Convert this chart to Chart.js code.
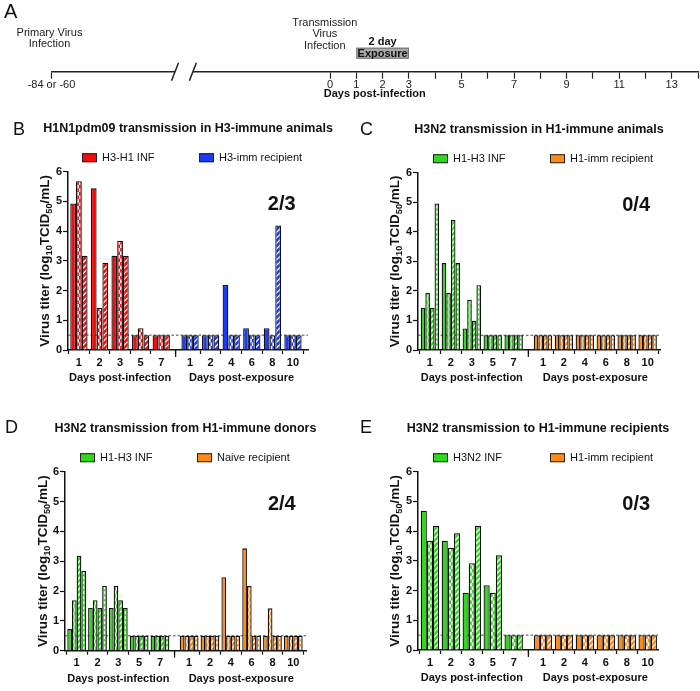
<!DOCTYPE html>
<html>
<head>
<meta charset="utf-8">
<script src="https://cdn.jsdelivr.net/npm/chart.js@4"></script>
<style>
  body { margin: 0; background: #fff; font-family: "Liberation Sans", Arial, sans-serif; }
  #page { position: relative; width: 700px; height: 691px; overflow: hidden; }
  canvas { position: absolute; }
  .letter { position: absolute; font-size: 18px; line-height: 18px; color: #111; }
</style>
</head>
<body>
<div id="page">
  <canvas id="panelA" width="700" height="110" style="left:0;top:0"></canvas>
  <canvas id="panelB" width="350" height="290" style="left:0;top:110px"></canvas>
  <canvas id="panelC" width="350" height="290" style="left:350px;top:110px"></canvas>
  <canvas id="panelD" width="350" height="291" style="left:0;top:400px"></canvas>
  <canvas id="panelE" width="350" height="291" style="left:350px;top:400px"></canvas>
  <div class="letter" style="left:4px;top:1px;font-size:20px;line-height:20px">A</div>
  <div class="letter" style="left:13px;top:120px">B</div>
  <div class="letter" style="left:360px;top:120px">C</div>
  <div class="letter" style="left:5px;top:418px">D</div>
  <div class="letter" style="left:360px;top:418px">E</div>
</div>
<script>
const FONT = '"Liberation Sans", Arial, sans-serif';
Chart.defaults.font.family = FONT;
Chart.defaults.color = '#111';

// timeline (panel A)
const timelineTicks = [-10.6, 0, 1, 2, 3, 4, 5, 6, 7, 8, 9, 10, 11, 12, 13, 14];
const timelineLabels = ['-84 or -60', '0', '1', '2', '3', '', '5', '', '7', '', '9', '', '11', '', '13', ''];
const axisBreak = [-5.9, -5.22];
const exposureDays = [1, 3];

// bar panels: shared x layout
const infDays = ['1', '2', '3', '5', '7'];
const expDays = ['1', '2', '4', '6', '8', '10'];
const dayLabels = infDays.concat(expDays);
const xPos = [0, 1, 2, 3, 4, 5.4, 6.4, 7.4, 8.4, 9.4, 10.4];
const yTicks = [0, 1, 2, 3, 4, 5, 6];
const lod = 0.5;
const animalPatterns = ['solid', 'check', 'diag', 'dash'];

// B: H1N1pdm09 in H3-immune animals
const bDonor = [
  [4.93, 5.44, 3.17, 0.5, 0.5],
  [5.68, 1.42, 3.68, 0.73, 0.5],
  [3.17, 2.94, 3.17, 0.5, 0.5],
];
const bRecipient = [
  [0.5, 0.5, 2.19, 0.73, 0.73, 0.5],
  [0.5, 0.5, 0.5, 0.5, 0.5, 0.5],
  [0.5, 0.5, 0.5, 0.5, 4.19, 0.5],
];

// C: H3N2 in H1-immune animals
const cDonor = [
  [1.43, 2.94, 0.73, 0.5, 0.5],
  [1.93, 1.93, 1.70, 0.5, 0.5],
  [1.43, 4.40, 0.99, 0.5, 0.5],
  [4.96, 2.94, 2.19, 0.5, 0.5],
];
const cRecipient = [
  [0.5, 0.5, 0.5, 0.5, 0.5, 0.5],
  [0.5, 0.5, 0.5, 0.5, 0.5, 0.5],
  [0.5, 0.5, 0.5, 0.5, 0.5, 0.5],
  [0.5, 0.5, 0.5, 0.5, 0.5, 0.5],
];

// D: H3N2 from H1-immune donors
const dDonor = [
  [0.73, 1.43, 1.43, 0.5, 0.5],
  [1.69, 1.69, 2.18, 0.5, 0.5],
  [3.18, 1.43, 1.69, 0.5, 0.5],
  [2.67, 2.18, 1.43, 0.5, 0.5],
];
const dRecipient = [
  [0.5, 0.5, 2.46, 3.43, 0.5, 0.5],
  [0.5, 0.5, 0.5, 2.17, 1.42, 0.5],
  [0.5, 0.5, 0.5, 0.5, 0.5, 0.5],
  [0.5, 0.5, 0.5, 0.5, 0.5, 0.5],
];

// E: H3N2 to H1-immune recipients
const eDonor = [
  [4.69, 3.68, 1.93, 2.18, 0.5],
  [3.68, 3.43, 2.92, 1.93, 0.5],
  [4.18, 3.93, 4.18, 3.19, 0.5],
];
const eRecipient = [
  [0.5, 0.5, 0.5, 0.5, 0.5, 0.5],
  [0.5, 0.5, 0.5, 0.5, 0.5, 0.5],
  [0.5, 0.5, 0.5, 0.5, 0.5, 0.5],
];

const RED = '#f20d0d';
const BLUE = '#1a3cf5';
const GREEN = '#2fd81a';
const ORANGE = '#ff8a17';
const BORDER = 1.3;

const timelineDecor = {
  id: 'timelineDecor',
  afterDraw(chart) {
    const { ctx, chartArea, scales: { x } } = chart;
    const base = chartArea.bottom;
    ctx.save();
    // axis break
    const b0 = x.getPixelForValue(axisBreak[0]);
    const b1 = x.getPixelForValue(axisBreak[1]);
    ctx.fillStyle = '#fff';
    ctx.fillRect(b0, base - 3, b1 - b0, 6);
    ctx.strokeStyle = '#222';
    ctx.lineWidth = 1.5;
    ctx.beginPath();
    [b0, b1].forEach(px => { ctx.moveTo(px - 3.5, base + 9); ctx.lineTo(px + 3.5, base - 9); });
    ctx.stroke();

    // exposure box
    const e0 = x.getPixelForValue(exposureDays[0]);
    const e1 = x.getPixelForValue(exposureDays[1]);
    ctx.fillStyle = '#aaaaaa';
    ctx.strokeStyle = '#707070';
    ctx.lineWidth = 1;
    ctx.fillRect(e0, base - 24, e1 - e0, 11);
    ctx.strokeRect(e0 + 0.5, base - 23.5, e1 - e0 - 1, 10);
    ctx.fillStyle = '#111';
    ctx.textAlign = 'center';
    ctx.textBaseline = 'middle';
    ctx.font = `bold 11px ${FONT}`;
    ctx.fillText('Exposure', (e0 + e1) / 2, base - 18);
    ctx.fillText('2 day', (e0 + e1) / 2, base - 30);
    ctx.fillText('Days post-infection', x.getPixelForValue(1.7), base + 22.5);

    ctx.font = `11px ${FONT}`;
    ctx.fillStyle = '#222';
    const p = x.getPixelForValue(timelineTicks[0]) - 2;
    ctx.fillText('Primary Virus', p, base - 39);
    ctx.fillText('Infection', p, base - 28);
    const t = x.getPixelForValue(-0.2);
    ctx.fillText('Transmission', t, base - 49);
    ctx.fillText('Virus', t, base - 38);
    ctx.fillText('Infection', t, base - 26);
    ctx.restore();
  },
};

new Chart(document.getElementById('panelA'), {
  type: 'scatter',
  data: { datasets: [] },
  options: {
    responsive: false,
    animation: false,
    layout: { padding: { left: 51.5, right: 2, top: 5 } },
    plugins: { legend: { display: false }, tooltip: { enabled: false } },
    scales: {
      x: {
        type: 'linear',
        bounds: 'data',
        min: timelineTicks[0],
        max: 14,
        afterBuildTicks: (axis) => { axis.ticks = timelineTicks.map(v => ({ value: v })); },
        afterFit: (axis) => { axis.height = 110 - 71.7; },
        border: { color: '#222', width: 1.5 },
        grid: { drawOnChartArea: false, tickLength: 7, color: '#222', tickWidth: 1.2 },
        ticks: {
          autoSkip: false, maxRotation: 0, padding: 0, color: '#222',
          font: { size: 11 },
          callback: (v, i) => timelineLabels[i],
        },
      },
      y: { display: false, min: 0, max: 1 },
    },
  },
  plugins: [timelineDecor],
});

const panelDecor = {
  id: 'panelDecor',
  beforeDatasetsDraw(chart) {
    const { ctx, chartArea, scales: { y } } = chart;
    const py = y.getPixelForValue(lod);
    ctx.save();
    ctx.setLineDash([2.5, 2]);
    ctx.strokeStyle = '#444';
    ctx.lineWidth = 1;
    ctx.beginPath();
    ctx.moveTo(chartArea.left, py);
    ctx.lineTo(chartArea.right, py);
    ctx.stroke();
    ctx.restore();
  },
  afterDatasetsDraw(chart) {
    const ctx = chart.ctx;
    chart.data.datasets.forEach((ds, i) => {
      const kind = animalPatterns[i];
      if (kind === 'solid') return;
      chart.getDatasetMeta(i).data.forEach(bar => {
        const { x, y, base, width } = bar.getProps(['x', 'y', 'base', 'width'], true);
        const left = x - width / 2 + BORDER;
        const right = x + width / 2 - BORDER;
        const top = y + BORDER;
        const bottom = base;
        const w = right - left;
        const h = bottom - top;
        if (w <= 0 || h <= 0) return;
        ctx.save();
        ctx.beginPath();
        ctx.rect(left, top, w, h);
        ctx.clip();
        ctx.fillStyle = '#fff';
        ctx.strokeStyle = '#fff';
        if (kind === 'check') {
          const cw = w / 2;
          for (let r = 0; bottom - r * 3.5 > top; r++) {
            ctx.fillRect(left + (r % 2) * cw, bottom - (r + 1) * 3.5, cw, 3.5);
          }
        } else if (kind === 'diag') {
          ctx.lineWidth = 1.3;
          ctx.beginPath();
          for (let t = -h; t < w + 6; t += 5.5) {
            ctx.moveTo(left + t, bottom);
            ctx.lineTo(left + t + h, bottom - h);
          }
          ctx.stroke();
        } else if (kind === 'dash') {
          const cx = (left + right) / 2;
          for (let yy = bottom - 1; yy > top; yy -= 5) ctx.fillRect(cx - 0.7, yy - 3, 1.4, 3);
        }
        ctx.restore();
      });
    });
  },
  afterDraw(chart, args, o) {
    const { ctx, chartArea, scales: { x, y } } = chart;
    const { left, right, top, bottom } = chartArea;
    const mid = (left + right) / 2;
    ctx.save();
    ctx.fillStyle = '#111';
    ctx.textBaseline = 'middle';

    // title
    ctx.textAlign = 'center';
    ctx.font = `bold 12.5px ${FONT}`;
    ctx.fillText(o.title, mid, top - 43);

    // legend
    ctx.font = `11px ${FONT}`;
    ctx.textAlign = 'left';
    o.legend.forEach(item => {
      const ly = top - 14;
      ctx.fillStyle = item.color;
      ctx.fillRect(item.x, ly - 4.5, 15, 9);
      ctx.strokeStyle = '#222';
      ctx.lineWidth = 1;
      ctx.strokeRect(item.x + 0.5, ly - 4, 14, 8);
      ctx.fillStyle = '#111';
      ctx.fillText(item.label, item.x + 20, ly + 0.5);
    });

    // transmission fraction
    ctx.textAlign = 'center';
    ctx.font = `bold 20px ${FONT}`;
    ctx.fillText(o.fraction, x.getPixelForValue(9.85), y.getPixelForValue(4.9));

    // group labels under x axis
    ctx.font = `bold 11px ${FONT}`;
    const mean = a => a.reduce((s, v) => s + v, 0) / a.length;
    ctx.fillText('Days post-infection', x.getPixelForValue(mean(xPos.slice(0, 5))), bottom + 28);
    ctx.fillText('Days post-exposure', x.getPixelForValue(mean(xPos.slice(5))), bottom + 28);

    // break tick between groups
    const bx = x.getPixelForValue((xPos[4] + xPos[5]) / 2);
    ctx.strokeStyle = '#111';
    ctx.lineWidth = 1.2;
    ctx.beginPath();
    ctx.moveTo(bx, bottom);
    ctx.lineTo(bx, bottom + 7);
    ctx.stroke();

    // y title with subscripts
    const parts = [['Virus titer (log', false], ['10', true], ['TCID', false], ['50', true], ['/mL)', false]];
    const size = 13.5;
    const fontFor = sub => `bold ${sub ? size * 0.68 : size}px ${FONT}`;
    let total = 0;
    parts.forEach(([t, sub]) => { ctx.font = fontFor(sub); total += ctx.measureText(t).width; });
    ctx.translate(o.yTitleX, (top + bottom) / 2);
    ctx.rotate(-Math.PI / 2);
    ctx.textAlign = 'left';
    let cx = -total / 2;
    parts.forEach(([t, sub]) => {
      ctx.font = fontFor(sub);
      ctx.fillText(t, cx, sub ? 4 : 0);
      cx += ctx.measureText(t).width;
    });
    ctx.restore();
  },
};

function barPanel(id, p) {
  const datasets = p.donor.map((vals, i) => ({
    label: 'Animal ' + (i + 1),
    data: xPos.map((x, j) => ({ x, y: j < 5 ? vals[j] : p.recipient[i][j - 5] })),
    backgroundColor: xPos.map((x, j) => (j < 5 ? p.donorColor : p.recipColor)),
    borderColor: '#111',
    borderWidth: BORDER,
    categoryPercentage: p.catPct,
    barPercentage: 1,
  }));

  new Chart(document.getElementById(id), {
    type: 'bar',
    data: { datasets },
    options: {
      responsive: false,
      animation: false,
      layout: { padding: { top: p.area.top, right: p.w - p.area.right, left: 0, bottom: 0 } },
      plugins: {
        legend: { display: false },
        tooltip: { enabled: false },
        panelDecor: {
          title: p.title,
          fraction: p.fraction,
          yTitleX: p.yTitleX,
          legend: [
            { label: p.donorLabel, color: p.donorColor, x: p.legendX[0] },
            { label: p.recipLabel, color: p.recipColor, x: p.legendX[1] },
          ],
        },
      },
      scales: {
        x: {
          type: 'linear',
          bounds: 'data',
          offset: false,
          min: p.xMin,
          max: p.xMax,
          afterBuildTicks: (axis) => { axis.ticks = xPos.map(v => ({ value: v })); },
          afterFit: (axis) => { axis.height = p.h - p.area.bottom; },
          border: { color: '#111', width: 1.5 },
          grid: { drawOnChartArea: false, tickLength: 4, color: '#111', tickWidth: 1.2 },
          ticks: {
            autoSkip: false, maxRotation: 0, padding: 2,
            font: { size: 11, weight: 'bold' },
            callback: (v, i) => dayLabels[i],
          },
        },
        y: {
          min: 0,
          max: 6,
          afterBuildTicks: (axis) => { axis.ticks = yTicks.map(v => ({ value: v })); },
          afterFit: (axis) => { axis.width = p.area.left; },
          border: { color: '#111', width: 1.5 },
          grid: { drawOnChartArea: false, tickLength: 5, color: '#111', tickWidth: 1.2 },
          ticks: { padding: 1, font: { size: 11, weight: 'bold' } },
        },
      },
    },
    plugins: [panelDecor],
  });
}

barPanel('panelB', {
  w: 350, h: 290, area: { left: 68, right: 308, top: 61.7, bottom: 240 },
  xMin: -0.53, xMax: 11.13, catPct: 0.84, yTitleX: 45, legendX: [82, 199],
  title: 'H1N1pdm09 transmission in H3-immune animals', fraction: '2/3',
  donor: bDonor, recipient: bRecipient,
  donorLabel: 'H3-H1 INF', recipLabel: 'H3-imm recipient', donorColor: RED, recipColor: BLUE,
});

barPanel('panelC', {
  w: 350, h: 290, area: { left: 68, right: 310, top: 62.7, bottom: 240 },
  xMin: -0.57, xMax: 10.99, catPct: 0.88, yTitleX: 45, legendX: [83, 200],
  title: 'H3N2 transmission in H1-immune animals', fraction: '0/4',
  donor: cDonor, recipient: cRecipient,
  donorLabel: 'H1-H3 INF', recipLabel: 'H1-imm recipient', donorColor: GREEN, recipColor: ORANGE,
});

barPanel('panelD', {
  w: 350, h: 291, area: { left: 65, right: 306, top: 71.7, bottom: 250.7 },
  xMin: -0.56, xMax: 11.01, catPct: 0.9, yTitleX: 43, legendX: [80, 197],
  title: 'H3N2 transmission from H1-immune donors', fraction: '2/4',
  donor: dDonor, recipient: dRecipient,
  donorLabel: 'H1-H3 INF', recipLabel: 'Naive recipient', donorColor: GREEN, recipColor: ORANGE,
});

barPanel('panelE', {
  w: 350, h: 291, area: { left: 68, right: 308, top: 71.7, bottom: 250 },
  xMin: -0.57, xMax: 10.89, catPct: 0.88, yTitleX: 45, legendX: [83, 200],
  title: 'H3N2 transmission to H1-immune recipients', fraction: '0/3',
  donor: eDonor, recipient: eRecipient,
  donorLabel: 'H3N2 INF', recipLabel: 'H1-imm recipient', donorColor: GREEN, recipColor: ORANGE,
});
</script>
</body>
</html>
